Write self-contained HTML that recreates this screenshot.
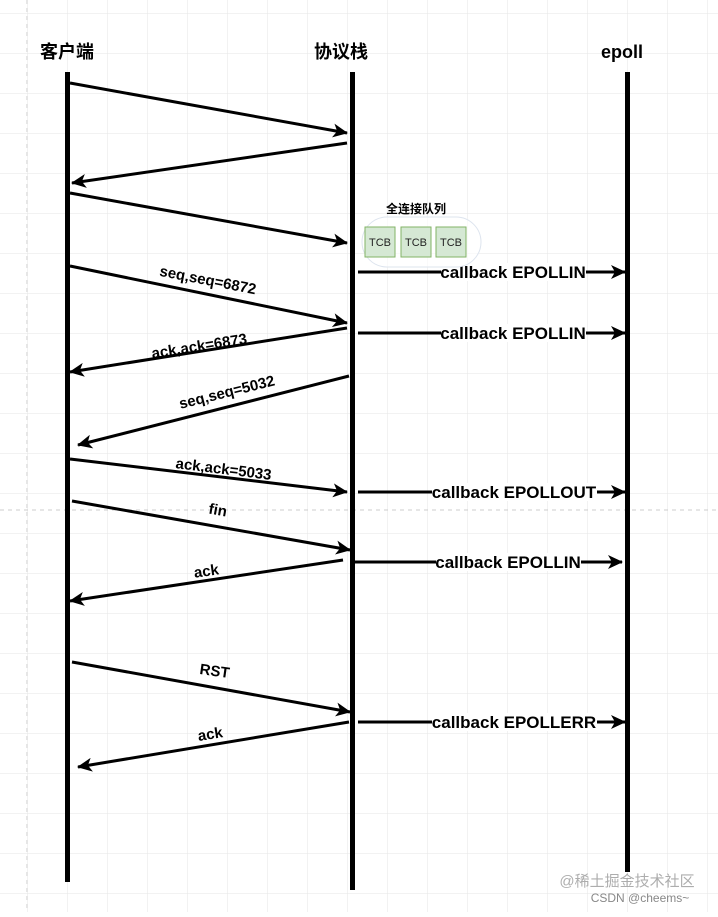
<!DOCTYPE html>
<html><head><meta charset="utf-8"><style>
body{margin:0;background:#fff}
svg text{font-family:"Liberation Sans","Noto Sans CJK SC",sans-serif}
</style></head><body>
<svg width="718" height="912" xmlns="http://www.w3.org/2000/svg">
<defs>
<pattern id="g" x="27" y="13" width="40" height="40" patternUnits="userSpaceOnUse">
<path d="M0 0H40M0 0V40" stroke="#e6e6e6" stroke-width="1" fill="none"/>
</pattern>
<marker id="a" markerWidth="16" markerHeight="14" refX="14" refY="7" orient="auto" markerUnits="userSpaceOnUse">
<path d="M0 0L15 7L0 14L4 7Z" fill="#000"/>
</marker>
</defs>
<rect width="718" height="912" fill="url(#g)"/>
<line x1="27" y1="0" x2="27" y2="912" stroke="#ccc" stroke-dasharray="4 4"/>
<line x1="0" y1="510" x2="718" y2="510" stroke="#ccc" stroke-dasharray="4 4"/>
<g font-weight="bold" font-size="18">
<text x="67" y="58" text-anchor="middle">客户端</text>
<text x="341" y="58" text-anchor="middle">协议栈</text>
<text x="622" y="58" text-anchor="middle">epoll</text>
</g>
<g fill="#000">
<rect x="65" y="72" width="5" height="810"/>
<rect x="350" y="72" width="5" height="818"/>
<rect x="625" y="72" width="5" height="800"/>
</g>
<g stroke="#000" stroke-width="3" marker-end="url(#a)">
<line x1="70" y1="83" x2="347" y2="133"/>
<line x1="347" y1="143" x2="72" y2="183"/>
<line x1="70" y1="193" x2="347" y2="243"/>
<line x1="70" y1="266" x2="347" y2="323"/>
<line x1="347" y1="328" x2="70" y2="372"/>
<line x1="349" y1="376" x2="78" y2="445"/>
<line x1="70" y1="459" x2="347" y2="492"/>
<line x1="72" y1="501" x2="350" y2="550"/>
<line x1="343" y1="560" x2="70" y2="601"/>
<line x1="72" y1="662" x2="350" y2="712"/>
<line x1="349" y1="722" x2="78" y2="767"/>
<line x1="358" y1="272" x2="625" y2="272"/>
<line x1="358" y1="333" x2="625" y2="333"/>
<line x1="358" y1="492" x2="625" y2="492"/>
<line x1="355" y1="562" x2="622" y2="562"/>
<line x1="358" y1="722" x2="625" y2="722"/>
</g>
<g font-weight="bold" font-size="15" text-anchor="middle">
<text transform="translate(207,285) rotate(11)">seq,seq=6872</text>
<text transform="translate(200,351) rotate(-9)">ack,ack=6873</text>
<text transform="translate(228,397) rotate(-14)">seq,seq=5032</text>
<text transform="translate(223,474) rotate(7)">ack,ack=5033</text>
<text transform="translate(217,515) rotate(10)">fin</text>
<text transform="translate(207,576) rotate(-8)">ack</text>
<text transform="translate(214,676) rotate(8)">RST</text>
<text transform="translate(211,739) rotate(-9)">ack</text>
</g>
<g font-weight="bold" font-size="17" text-anchor="middle">
<rect x="441" y="263" width="145" height="18" fill="#fff"/><text x="513" y="278">callback EPOLLIN</text>
<rect x="441" y="324" width="145" height="18" fill="#fff"/><text x="513" y="339">callback EPOLLIN</text>
<rect x="432" y="483" width="165" height="18" fill="#fff"/><text x="514" y="498">callback EPOLLOUT</text>
<rect x="436" y="553" width="145" height="18" fill="#fff"/><text x="508" y="568">callback EPOLLIN</text>
<rect x="432" y="713" width="165" height="18" fill="#fff"/><text x="514" y="728">callback EPOLLERR</text>
</g>
<text x="416" y="213" font-weight="bold" font-size="12" text-anchor="middle">全连接队列</text>
<rect x="362" y="217" width="119" height="50" rx="25" fill="#fff" fill-opacity="0.6" stroke="#dde4ee"/>
<g fill="#d5e8d4" stroke="#82b366">
<rect x="365" y="227" width="30" height="30"/>
<rect x="401" y="227" width="30" height="30"/>
<rect x="436" y="227" width="30" height="30"/>
</g>
<g font-size="11" text-anchor="middle" fill="#222">
<text x="380" y="246">TCB</text><text x="416" y="246">TCB</text><text x="451" y="246">TCB</text>
</g>
<text x="627" y="886" font-size="15" fill="#999" text-anchor="middle" opacity="0.8">@稀土掘金技术社区</text>
<text x="640" y="902" font-size="12" fill="#888" text-anchor="middle">CSDN @cheems~</text>
</svg>
</body></html>
